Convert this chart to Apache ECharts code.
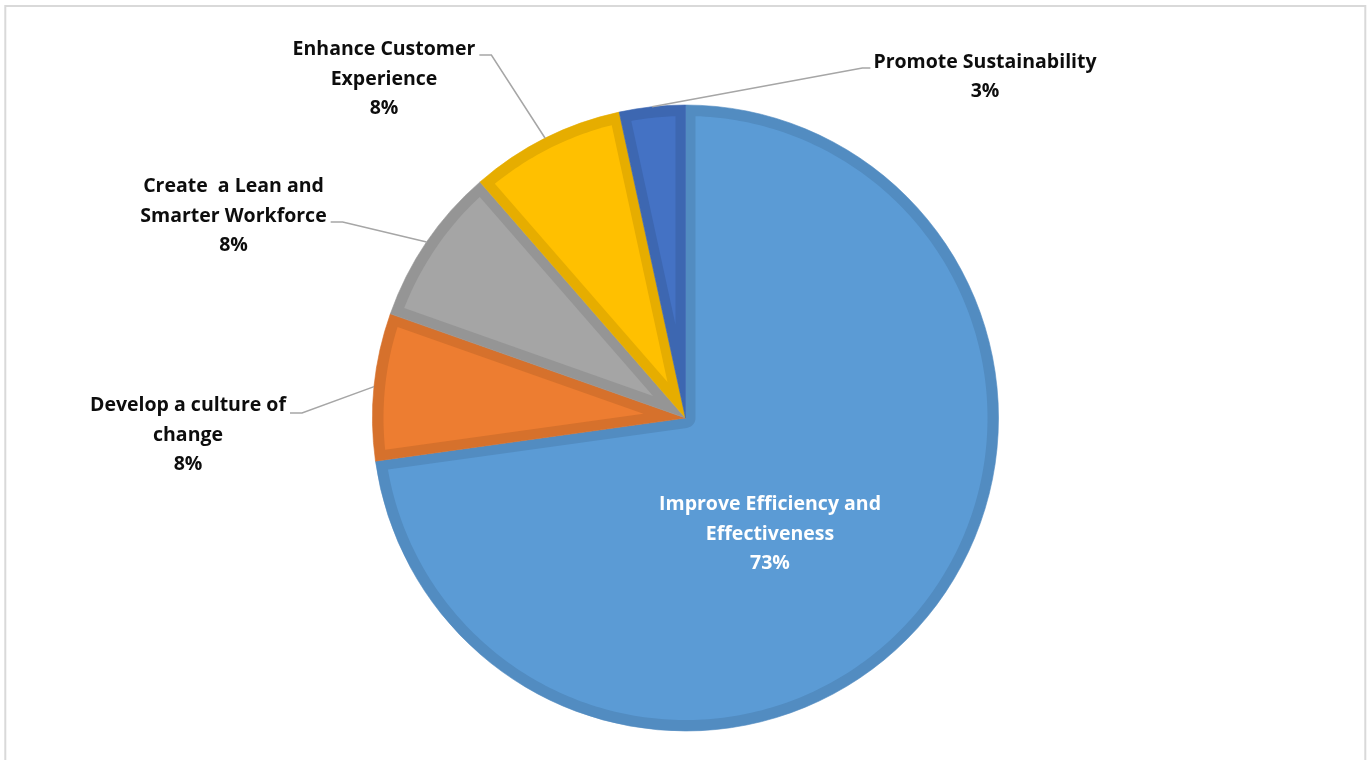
<!DOCTYPE html>
<html><head><meta charset="utf-8">
<script src="https://cdn.jsdelivr.net/npm/echarts@6/dist/echarts.min.js"></script>
<style>html,body{margin:0;padding:0;background:#fff;} #c{width:1371px;height:760px;}</style>
</head><body><div id="c"></div>
<script>
// ---- data ----
const categories = ['Improve Efficiency and\nEffectiveness', 'Develop a culture of\nchange', 'Create  a Lean and\nSmarter Workforce', 'Enhance Customer\nExperience', 'Promote Sustainability'];
const values = [72.8, 7.6, 8.2, 8.0, 3.4];
// ---- styles ----
const fillColors = ['#5B9BD5', '#ED7D31', '#A5A5A5', '#FFC000', '#4472C4'];
const bandColors = ['#528CC1', '#D6712C', '#959595', '#E6AD00', '#3D67B1'];
const CENTER = [685.5, 418], RADIUS = 313, BAND = 10, OUTER_BAND = 11;
// label block centres, leader attach offset, side
const labelBoxes = [
  { x: 770, y: 534 },
  { x: 188, y: 435, dy: -22, side: 'left' },
  { x: 233.5, y: 216, dy: 6, side: 'left' },
  { x: 384, y: 79, dy: -24, side: 'left' },
  { x: 985, y: 77, dy: -9, side: 'right' }
];

const total = values.reduce((a, b) => a + b, 0);
let acc = 0;
const spans = values.map(v => { const s = acc; acc += v; return [1, s, acc]; });

function renderInset(params, api) {
  const i = params.dataIndex;
  const s = api.value(1), e = api.value(2);
  const c = api.coord([0, s]);
  const p1 = api.coord([1, s]);
  const p2 = api.coord([1, e]);
  const R = Math.hypot(p1[0] - c[0], p1[1] - c[1]);
  const a1 = Math.atan2(p1[1] - c[1], p1[0] - c[0]);
  let a2 = Math.atan2(p2[1] - c[1], p2[0] - c[0]);
  let sweep = a2 - a1; while (sweep <= 0) sweep += 2 * Math.PI;
  a2 = a1 + sweep;
  const d = BAND, Ro = R - OUTER_BAND;
  const delta = Math.asin(d / Ro);
  const pts = [];
  const N = Math.max(8, Math.ceil(sweep * 60));
  for (let k = 0; k <= N; k++) {
    const a = a1 + delta + (sweep - 2 * delta) * k / N;
    pts.push([c[0] + Ro * Math.cos(a), c[1] + Ro * Math.sin(a)]);
  }
  if (sweep < Math.PI) {
    const half = sweep / 2, q = d / Math.sin(half), b = a1 + half;
    pts.push([c[0] + q * Math.cos(b), c[1] + q * Math.sin(b)]);
  } else {
    const phi = 2 * Math.PI - sweep;
    const from = a2 - Math.PI / 2, span = Math.PI - phi;
    for (let k = 0; k <= 10; k++) {
      const a = from - span * k / 10;
      pts.push([c[0] + d * Math.cos(a), c[1] + d * Math.sin(a)]);
    }
  }
  return { type: 'polygon', shape: { points: pts }, style: { fill: fillColors[i] }, silent: true };
}

const chart = echarts.init(document.getElementById('c'), null, { renderer: 'canvas' });
chart.setOption({
  animation: false,
  backgroundColor: '#fff',
  graphic: [{ type: 'rect', silent: true, z: -1, shape: { x: 5.3, y: 6, width: 1360, height: 800 }, style: { fill: 'none', stroke: '#D9D9D9', lineWidth: 2 } }],
  polar: { center: CENTER, radius: RADIUS },
  angleAxis: { type: 'value', min: 0, max: total, startAngle: 90, clockwise: true, show: false },
  radiusAxis: { type: 'value', min: 0, max: 1, show: false },
  series: [
    {
      type: 'pie', z: 1, silent: true, center: CENTER, radius: [0, RADIUS], startAngle: 90, clockwise: true,
      label: { show: false }, labelLine: { show: false },
      data: values.map((v, i) => ({ value: v, name: categories[i], itemStyle: { color: bandColors[i], borderColor: bandColors[i], borderWidth: 0.6 } }))
    },
    {
      type: 'custom', z: 2, coordinateSystem: 'polar', silent: true,
      dimensions: ['r', 'start', 'end'], encode: { radius: 0, angle: [1, 2] },
      renderItem: renderInset, data: spans
    },
    {
      type: 'pie', z: 3, silent: true, center: CENTER, radius: [0, RADIUS], startAngle: 90, clockwise: true,
      avoidLabelOverlap: false,
      itemStyle: { color: 'rgba(0,0,0,0)', borderWidth: 0 },
      label: {
        show: true, position: 'outside', fontFamily: 'Open Sans', fontWeight: 'bold', fontSize: 19.5,
        lineHeight: 29.5, color: '#0D0D0D', align: 'center',
        formatter: p => p.name + '\n' + Math.round(p.percent) + '%'
      },
      labelLine: { show: true, length: 10, length2: 10, lineStyle: { color: '#A6A6A6', width: 1.5 } },
      labelLayout: function (params) {
        const b = labelBoxes[params.dataIndex];
        const w = params.labelRect.width;
        const out = { x: b.x, y: b.y, align: 'center', verticalAlign: 'middle' };
        if (b.side) {
          const start = params.labelLinePoints ? params.labelLinePoints[0] : null;
          const yA = b.y + b.dy;
          let end, bend;
          if (b.side === 'left') { end = [b.x + w / 2 + 4, yA]; bend = [end[0] + 12, yA]; }
          else { end = [b.x - w / 2 - 3, yA]; bend = [end[0] - 8, yA]; }
          if (start) out.labelLinePoints = [start, bend, end];
        }
        return out;
      },
      data: values.map((v, i) => i === 0
        ? { value: v, name: categories[i], label: { color: '#FFFFFF' }, labelLine: { show: false } }
        : { value: v, name: categories[i] })
    }
  ]
});
</script></body></html>
